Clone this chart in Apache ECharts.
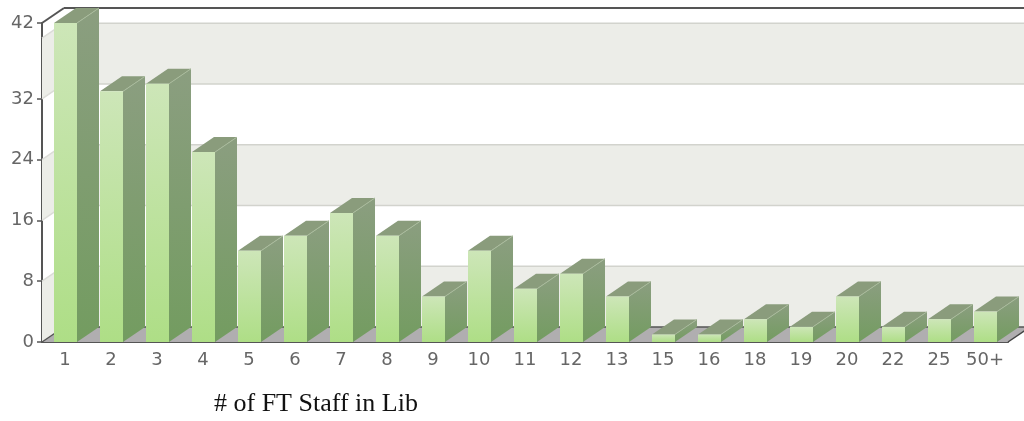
<!DOCTYPE html>
<html><head><meta charset="utf-8">
<style>html,body{margin:0;padding:0;background:#fff}#c{width:1024px;height:421px}</style>
<script src="https://cdn.jsdelivr.net/npm/echarts@6/dist/echarts.min.js"></script>
</head><body><div id="c"></div>
<script>
const categories = ['1','2','3','4','5','6','7','8','9','10','11','12','13','15','16','18','19','20','22','25','50+'];
const staffCounts = [42,33,34,25,12,14,17,14,6,12,7,9,6,1,1,3,2,6,2,3,4];
const yTicks = [0,8,16,24,32,42];
const shadedBands = [[0,8],[16,24],[32,40]];
const wallLines = [8,16,24,32,40];
const DX = 22, DY = 15;

const chart = echarts.init(document.getElementById('c'), null, {renderer:'canvas'});
const poly = (points, fill, extra) => ({type:'polygon', shape:{points}, style:Object.assign({fill}, extra||{})});
const line = (a, b, stroke, w) => ({type:'line', shape:{x1:a[0],y1:a[1],x2:b[0],y2:b[1]}, style:{stroke, lineWidth:w}});

function renderWalls(params, api){
  const r = params.coordSys, L = r.x, R = r.x + r.width;
  const Y = v => api.coord([0, v])[1];
  const kids = [];
  shadedBands.forEach(b => {
    const y0 = Y(b[0]), y1 = Y(b[1]);
    kids.push(poly([[L,y0],[L+DX,y0-DY],[L+DX,y1-DY],[L,y1]], '#ecede8'));
    kids.push(poly([[L+DX,y0-DY],[R+DX,y0-DY],[R+DX,y1-DY],[L+DX,y1-DY]], '#ecede8'));
  });
  wallLines.forEach(v => {
    const y = Y(v);
    kids.push(line([L,y],[L+DX,y-DY],'#dcdcd8',1.5));
    kids.push(line([L+DX,y-DY],[R+DX,y-DY],'#d2d3cd',1.5));
  });
  const y0 = Y(0), yT = Y(42);
  kids.push(poly([[L,y0],[R,y0],[R+DX,y0-DY],[L+DX,y0-DY]], '#b0aeb0'));
  kids.push(line([L+DX,y0-DY],[R+DX,y0-DY],'#555',1.5));
  kids.push(line([L,y0],[L+DX,y0-DY],'#555',1.5));
  kids.push(line([R,y0],[R+DX,y0-DY],'#444',1.5));
  kids.push(line([L,yT],[L+DX,yT-DY],'#555',2));
  kids.push(line([L+DX,yT-DY],[R+DX,yT-DY],'#555',2));
  return {type:'group', children:kids};
}

function renderBar(params, api){
  const x = api.coord([api.value(0), 0])[0];
  const y0 = api.coord([0, 0])[1];
  const y1 = api.coord([api.value(0), api.value(1)])[1];
  const w = 23, l = x - w/2 + 0.5, r = l + w;
  const vg = (a,b) => new echarts.graphic.LinearGradient(0,0,0,1,[{offset:0,color:a},{offset:1,color:b}]);
  return {type:'group', children:[
    poly([[r,y0],[r+DX,y0-DY],[r+DX,y1-DY],[r,y1]], vg('#8b9e80','#739c60')),
    poly([[l,y1],[r,y1],[r+DX,y1-DY],[l+DX,y1-DY]], '#8a9c7c'),
    {type:'rect', shape:{x:l,y:y1,width:w,height:y0-y1}, style:{fill:vg('#cde6b8','#aede86')}},
    line([r,y1],[r+DX,y1-DY],'#a9bb9c',1)
  ]};
}

chart.setOption({
  animation:false,
  title:{text:'# of FT Staff in Lib', left:214, top:391, padding:0,
    textStyle:{fontFamily:'Liberation Serif', fontSize:26, fontWeight:'normal', color:'#111'}},
  grid:{left:42, right:16, top:23, bottom:79, containLabel:false},
  xAxis:{type:'category', data:categories, boundaryGap:true,
    axisLine:{show:true, lineStyle:{color:'#555', width:2}},
    axisTick:{show:false},
    splitLine:{show:false},
    axisLabel:{interval:0, margin:9, fontFamily:'DejaVu Sans', fontSize:18, color:'#666'}},
  yAxis:{type:'value', min:0, max:42,
    axisLine:{show:true, lineStyle:{color:'#555', width:2}},
    axisTick:{show:true, length:5, customValues:yTicks, lineStyle:{color:'#555', width:1.5}},
    splitLine:{show:false},
    axisLabel:{margin:8, customValues:yTicks, fontFamily:'DejaVu Sans', fontSize:18, color:'#666'}},
  series:[
    {type:'custom', name:'walls', data:[[0,0]], renderItem:renderWalls, clip:false, z:1, silent:true},
    {type:'custom', name:'# of FT Staff in Lib',
      data:staffCounts.map((v,i)=>[i,v]), encode:{x:0,y:1}, renderItem:renderBar, clip:false, z:3}
  ]
});
</script></body></html>
